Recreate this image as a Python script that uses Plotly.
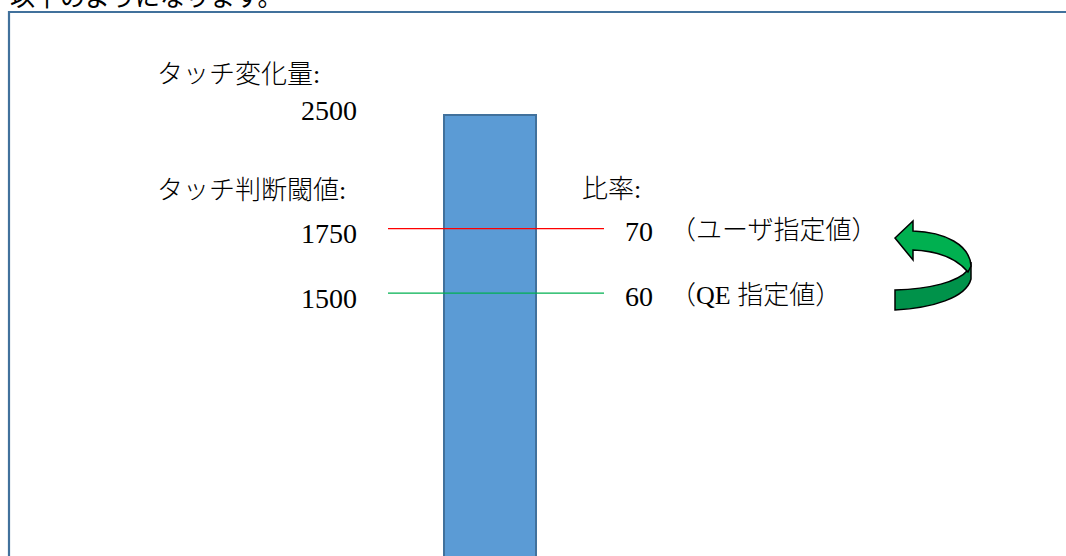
import plotly.graph_objects as go

# ---- data ----
categories = ["タッチ変化量"]
change_amount = [2500]
threshold_values = [1750, 1500]
ratio_values = [70, 60]
ratio_labels = ["（ユーザ指定値）", "（QE 指定値）"]
header_text = "以下のようになります。"
label_change = "タッチ変化量:"
label_threshold = "タッチ判断閾値:"
label_ratio = "比率:"

# ---- styles ----
W, H = 1066, 556
line_colors = ["#FF0000", "#00B050"]
SERIF = "Liberation Serif, Noto Sans CJK JP, serif"
SANS = "Noto Sans CJK JP, sans-serif"


def px(x):
    return x / W


def py(y):
    return 1 - y / H


fig = go.Figure()
fig.add_trace(go.Bar(
    x=categories, y=change_amount,
    marker=dict(color="#5B9BD5", line=dict(color="#41719C", width=2)),
    showlegend=False, hoverinfo="skip",
))

shapes = []
# outer frame
shapes.append(dict(type="rect", xref="paper", yref="paper",
                   x0=px(9), x1=1.02, y0=-0.02, y1=py(12),
                   line=dict(color="#41719C", width=2.2), fillcolor="rgba(0,0,0,0)",
                   layer="below"))
# threshold lines (placed on ratio scale)
for r, c in zip(ratio_values, line_colors):
    shapes.append(dict(type="line", xref="paper", yref="y2",
                       x0=px(388), x1=px(604), y0=r, y1=r,
                       line=dict(color=c, width=1.3)))


def path(cmds):
    out = []
    for c in cmds:
        op = c[0]
        pts = c[1:]
        s = op
        for (x, y) in pts:
            s += f" {px(x):.5f},{py(y):.5f}"
        out.append(s)
    return " ".join(out) + " Z"


lower_band = path([
    ("M", (971, 262)),
    ("L", (971, 279)),
    ("C", (966, 298), (932, 308), (895, 310)),
    ("L", (895, 290)),
    ("C", (930, 289), (958, 282), (968, 270)),
])
upper_band = path([
    ("M", (895, 238)),
    ("L", (913, 221)),
    ("L", (913, 231)),
    ("C", (945, 232), (970, 245), (971, 266)),
    ("L", (968, 272)),
    ("C", (958, 260), (940, 251), (913, 250)),
    ("L", (913, 260)),
])
shapes.append(dict(type="path", xref="paper", yref="paper", path=lower_band,
                   fillcolor="#00924A", line=dict(color="#000000", width=1.5)))
shapes.append(dict(type="path", xref="paper", yref="paper", path=upper_band,
                   fillcolor="#00B050", line=dict(color="#000000", width=1.5)))

ann = []
# header (cut off at top)
ann.append(dict(text=header_text, xref="paper", yref="paper", x=px(9), y=1 + 5 / H,
                xanchor="left", yanchor="middle", showarrow=False,
                font=dict(family=SANS, size=25, color="#000000"), borderpad=0))
# left headers
for t, yy in [(label_change, 74), (label_threshold, 190)]:
    ann.append(dict(text=t, xref="paper", yref="paper", x=px(156), y=py(yy),
                    xanchor="left", yanchor="middle", showarrow=False,
                    font=dict(family=SERIF, size=26, color="#000000", weight=300), borderpad=0))
ann.append(dict(text=label_ratio, xref="paper", yref="paper", x=px(581), y=py(189),
                xanchor="left", yanchor="middle", showarrow=False,
                font=dict(family=SERIF, size=26, color="#000000", weight=300), borderpad=0))
# value labels
ann.append(dict(text=str(change_amount[0]), xref="paper", yref="y", x=px(358), y=change_amount[0],
                yshift=5, xanchor="right", yanchor="middle", showarrow=False,
                font=dict(family=SERIF, size=28, color="#000000"), borderpad=0))
for tv, r, lab in zip(threshold_values, ratio_values, ratio_labels):
    ann.append(dict(text=str(tv), xref="paper", yref="y2", x=px(358), y=r, yshift=-5,
                    xanchor="right", yanchor="middle", showarrow=False,
                    font=dict(family=SERIF, size=28, color="#000000"), borderpad=0))
    ann.append(dict(text=str(r), xref="paper", yref="y2", x=px(624), y=r, yshift=-3,
                    xanchor="left", yanchor="middle", showarrow=False,
                    font=dict(family=SERIF, size=28, color="#000000"), borderpad=0))
    ann.append(dict(text=lab, xref="paper", yref="y2", x=px(669), y=r, yshift=-2,
                    xanchor="left", yanchor="middle", showarrow=False,
                    font=dict(family=SERIF, size=26, color="#000000", weight=300), borderpad=0))

fig.update_layout(
    width=W, height=H,
    margin=dict(l=0, r=0, t=0, b=0),
    paper_bgcolor="#FFFFFF", plot_bgcolor="rgba(0,0,0,0)",
    bargap=0.08,
    xaxis=dict(domain=[px(440), px(540)], visible=False, fixedrange=True),
    yaxis=dict(range=[40, 3141.5], visible=False, fixedrange=True),
    yaxis2=dict(range=[19.23, 105.43], overlaying="y", visible=False, fixedrange=True),
    shapes=shapes, annotations=ann,
)

fig.write_html("out.html", config={"displayModeBar": False},
               post_script="document.body.style.margin='0';document.body.style.overflow='hidden';")
